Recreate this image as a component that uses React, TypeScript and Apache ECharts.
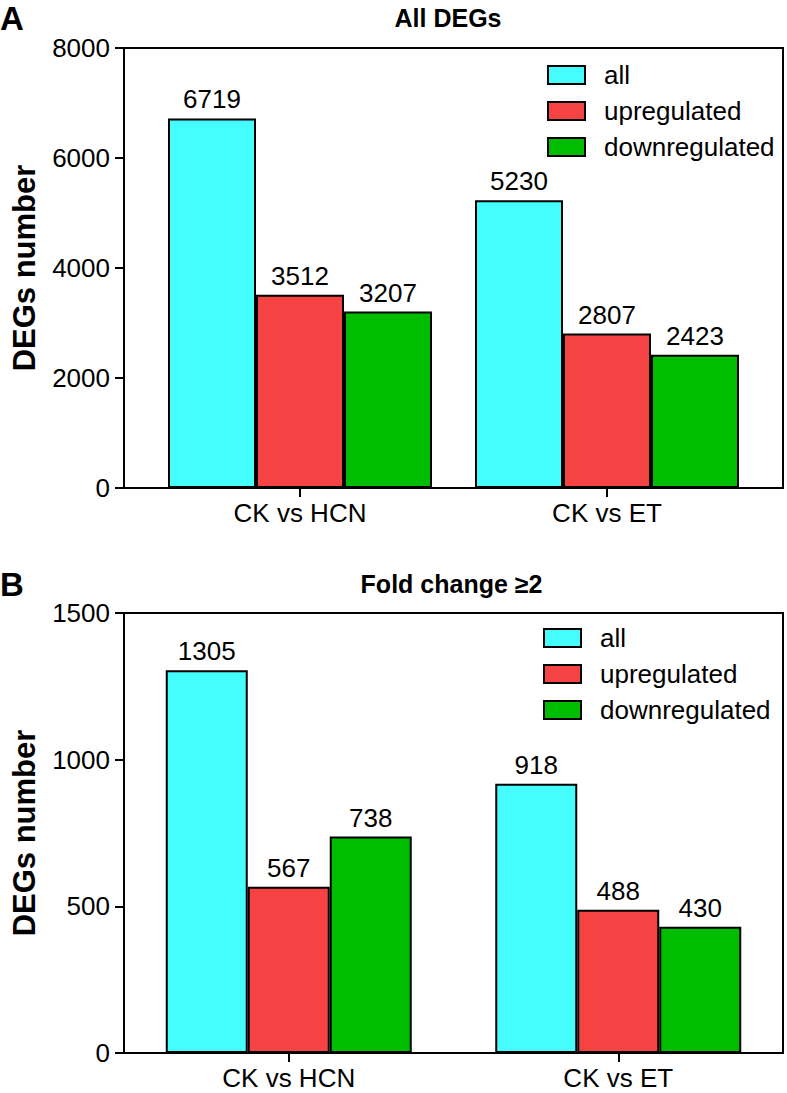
import React, { useEffect, useRef } from 'react';
import * as echarts from 'echarts';

const categories = ['CK vs HCN', 'CK vs ET'];
const seriesNames = ['all', 'upregulated', 'downregulated'];
const colors = ['#45FDFD', '#F54343', '#00BD00'];

const panelAAll = [6719, 5230];
const panelAUp = [3512, 2807];
const panelADown = [3207, 2423];

const panelBAll = [1305, 918];
const panelBUp = [567, 488];
const panelBDown = [738, 430];

const panelTitles = ['All DEGs', 'Fold change \u22652'];
const panelLetters = ['A', 'B'];
const yMaxes = [8000, 1500];
const ySteps = [2000, 500];
const yName = 'DEGs number';

const FONT = "'Liberation Sans', Arial, Helvetica, sans-serif";

export default function App() {
  const ref = useRef<HTMLDivElement>(null);
  useEffect(() => {
    const chart = echarts.init(ref.current as HTMLDivElement, null, { renderer: 'svg' });
    const H = 440;
    const panels = [
      {
        top: 48, barLeft: 146.5, barRight: 26.5, barWidth: 88,
        data: [panelAAll, panelAUp, panelADown],
        legendLeft: 547, legendTop: 62, titleX: 448, titleY: 18, letterY: 18,
      },
      {
        top: 613, barLeft: 124, barRight: 4, barWidth: 82,
        data: [panelBAll, panelBUp, panelBDown],
        legendLeft: 543, legendTop: 625, titleX: 451.5, titleY: 584, letterY: 584,
      },
    ];
    const grid: any[] = [];
    const xAxis: any[] = [];
    const yAxis: any[] = [];
    const series: any[] = [];
    const legend: any[] = [];
    const graphic: any[] = [];
    const black = '#000';
    panels.forEach((p, pi) => {
      const fi = pi * 2;
      const bi = pi * 2 + 1;
      grid.push({
        left: 124, right: 4, top: p.top, height: H, show: true,
        borderColor: black, borderWidth: 2, backgroundColor: 'transparent',
      });
      grid.push({ left: p.barLeft, right: p.barRight, top: p.top, height: H });
      xAxis.push({ gridIndex: fi, type: 'value', show: false, min: 0, max: 1 });
      xAxis.push({
        gridIndex: bi, type: 'category', data: categories,
        axisLine: { show: false },
        axisTick: { show: true, alignWithLabel: true, length: 9, lineStyle: { color: black, width: 2 } },
        axisLabel: { fontSize: 26, color: black, margin: 15, lineHeight: 20, fontFamily: FONT },
      });
      yAxis.push({
        gridIndex: fi, type: 'value', min: 0, max: yMaxes[pi], interval: ySteps[pi],
        axisLine: { show: true, lineStyle: { color: black, width: 2 } },
        axisTick: { show: true, length: 9, lineStyle: { color: black, width: 2 } },
        axisLabel: { fontSize: 26, color: black, margin: 14, fontFamily: FONT, formatter: (v: number) => String(v) },
        splitLine: { show: false },
        name: yName, nameLocation: 'middle', nameGap: 84,
        nameTextStyle: { fontSize: 31, fontWeight: 'bold', color: black, fontFamily: FONT },
      });
      yAxis.push({ gridIndex: bi, type: 'value', min: 0, max: yMaxes[pi], show: false });
      seriesNames.forEach((name, si) => {
        series.push({
          type: 'bar', name, xAxisIndex: bi, yAxisIndex: bi,
          data: p.data[si], barWidth: p.barWidth, barGap: '0%',
          itemStyle: { color: colors[si], borderColor: black, borderWidth: 2 },
          label: { show: true, position: 'top', distance: 6, fontSize: 26, color: black, fontFamily: FONT },
        });
      });
      legend.push({
        left: p.legendLeft, top: p.legendTop, orient: 'vertical', padding: 0,
        itemWidth: 37, itemHeight: 18, itemGap: 10, icon: 'rect', selectedMode: false,
        data: seriesNames,
        itemStyle: { borderColor: black, borderWidth: 2 },
        textStyle: { fontSize: 26, color: black, lineHeight: 20, padding: [0, 0, 0, 14], fontFamily: FONT },
      });
      graphic.push({
        type: 'text', x: 0, y: p.letterY,
        style: { text: panelLetters[pi], fontSize: 33, fontWeight: 'bold', fill: black, fontFamily: FONT, align: 'left', verticalAlign: 'middle' },
      });
      graphic.push({
        type: 'text', x: p.titleX, y: p.titleY,
        style: { text: panelTitles[pi], fontSize: 25, fontWeight: 'bold', fill: black, fontFamily: FONT, align: 'center', verticalAlign: 'middle' },
      });
    });
    chart.setOption({
      animation: false,
      backgroundColor: '#fff',
      textStyle: { fontFamily: FONT },
      grid, xAxis, yAxis, series, legend, graphic,
    });
    return () => chart.dispose();
  }, []);
  return <div ref={ref} style={{ position: 'absolute', left: 0, top: 0, width: 787, height: 1093 }} />;
}
